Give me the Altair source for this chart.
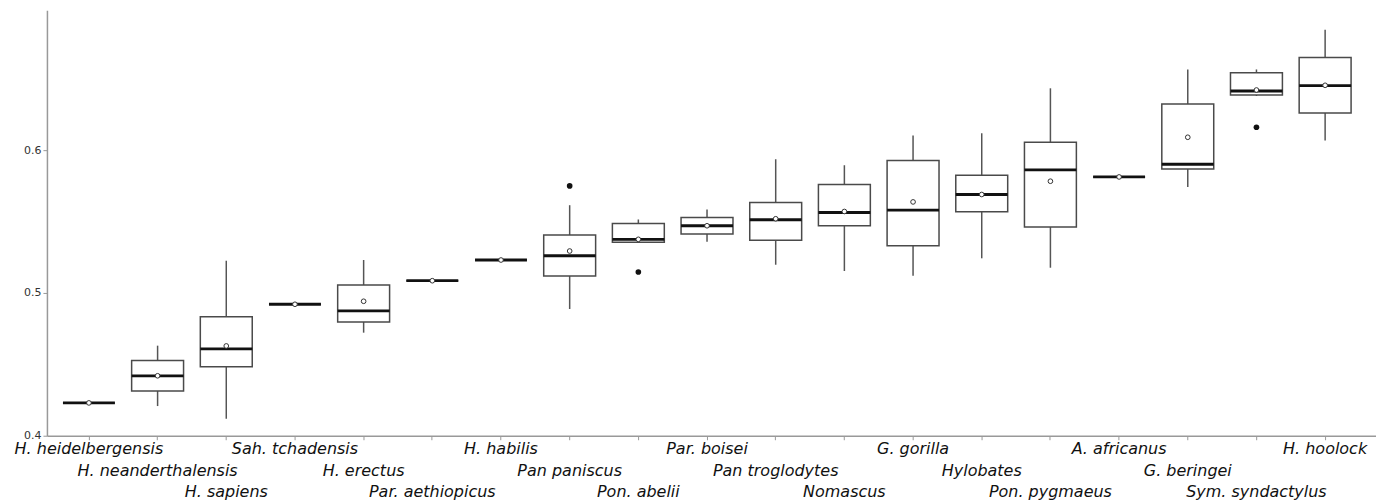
import altair as alt
import pandas as pd

species = ["H. heidelbergensis", "H. neanderthalensis", "H. sapiens", "Sah. tchadensis",
           "H. erectus", "Par. aethiopicus", "H. habilis", "Pan paniscus", "Pon. abelii",
           "Par. boisei", "Pan troglodytes", "Nomascus", "G. gorilla", "Hylobates",
           "Pon. pygmaeus", "A. africanus", "G. beringei", "Sym. syndactylus", "H. hoolock"]
label_row = [0, 1, 2] * 6 + [0]
whisker_low = [0.423, 0.4208, 0.4119, 0.4921, 0.4722, 0.5086, 0.5231, 0.4888, 0.5355,
               0.5359, 0.5198, 0.5154, 0.5121, 0.5243, 0.5177, 0.5813, 0.5743, 0.6380, 0.6068]
q1 = [0.423, 0.4313, 0.4483, 0.4921, 0.4797, 0.5086, 0.5231, 0.5119, 0.5355,
      0.5413, 0.5369, 0.5471, 0.5331, 0.5569, 0.5462, 0.5813, 0.5869, 0.6387, 0.6261]
median = [0.423, 0.4420, 0.4608, 0.4921, 0.4874, 0.5086, 0.5231, 0.5261, 0.5376,
          0.5471, 0.5513, 0.5564, 0.5580, 0.5690, 0.5862, 0.5813, 0.5902, 0.6415, 0.6452]
q3 = [0.423, 0.4527, 0.4834, 0.4921, 0.5056, 0.5086, 0.5231, 0.5406, 0.5487,
      0.5529, 0.5634, 0.5760, 0.5928, 0.5825, 0.6056, 0.5813, 0.6324, 0.6543, 0.6650]
whisker_high = [0.423, 0.4631, 0.5226, 0.4921, 0.5231, 0.5086, 0.5231, 0.5615, 0.5515,
                0.5585, 0.5937, 0.5895, 0.6103, 0.6119, 0.6434, 0.5813, 0.6566, 0.6566, 0.6844]
mean = [0.423, 0.4420, 0.4629, 0.4921, 0.4942, 0.5086, 0.5231, 0.5294, 0.5376,
        0.5471, 0.5520, 0.5571, 0.5638, 0.5690, 0.5783, 0.5813, 0.6091, 0.6422, 0.6455]

outlier_species = ["Pan paniscus", "Pon. abelii", "Sym. syndactylus"]
outlier_values = [0.575, 0.5147, 0.6161]

df = pd.DataFrame({"species": species, "row": label_row, "wl": whisker_low, "q1": q1,
                   "med": median, "q3": q3, "wh": whisker_high, "mean": mean})
dfo = pd.DataFrame({"species": outlier_species, "value": outlier_values})

H = 426
xenc = alt.X("species:N", sort=species, title=None,
             scale=alt.Scale(paddingInner=0, paddingOuter=0.176, align=0.316),
             axis=alt.Axis(labels=False, domainColor="#999", domainWidth=1.5,
                           tickColor="#999", tickSize=4))
yscale = alt.Scale(domain=[0.4, 0.698], nice=False, zero=False)
yaxis = alt.Axis(values=[0.4, 0.5, 0.6], format=".1f", title=None, grid=False,
                 labelFontSize=11, labelFont="DejaVu Sans", labelColor="#333",
                 domainColor="#999", domainWidth=1.5, tickColor="#999", tickSize=4)

base = alt.Chart(df).encode(x=xenc)

whisk = base.mark_rule(color="#555", strokeWidth=1.5).encode(
    y=alt.Y("wl:Q", scale=yscale, axis=yaxis), y2="wh:Q")
box = base.mark_bar(size=52, fill="white", stroke="#4a4a4a", strokeWidth=1.5).encode(
    y=alt.Y("q1:Q", scale=yscale), y2="q3:Q")
med = base.mark_tick(size=52, thickness=2.8, color="#111", opacity=1).encode(
    y=alt.Y("med:Q", scale=yscale))
mn = base.mark_point(filled=True, fill="white", stroke="#333", strokeWidth=1, size=22,
                     opacity=1).encode(y=alt.Y("mean:Q", scale=yscale))
outl = alt.Chart(dfo).mark_circle(color="#111", size=32, opacity=1).encode(
    x=alt.X("species:N", sort=species), y=alt.Y("value:Q", scale=yscale))

labels = []
for r, yoff in zip([0, 1, 2], [13, 35, 56]):
    labels.append(
        base.transform_filter(alt.datum.row == r).mark_text(
            font="DejaVu Sans", fontStyle="italic", fontSize=16, color="#111",
            baseline="middle", align="center"
        ).encode(text="species:N", y=alt.value(H + yoff))
    )

chart = alt.layer(whisk, box, med, mn, outl, *labels).properties(
    width=1331, height=H,
    autosize=alt.AutoSizeParams(type="none"),
    padding={"left": 39, "top": 2, "right": 0, "bottom": 65},
).configure_view(stroke=None)

chart.save("out.html", embed_options={"renderer": "svg", "actions": False})
